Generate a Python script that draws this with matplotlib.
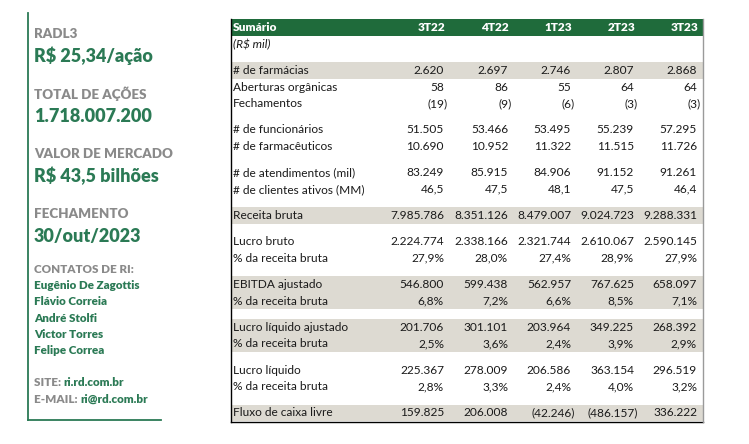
import matplotlib
matplotlib.use("Agg")
import matplotlib.pyplot as plt
from matplotlib.patches import Rectangle

plt.rcParams['font.family'] = ['Lato', 'DejaVu Sans']

# ---- data ----
periods = ['3T22', '4T22', '1T23', '2T23', '3T23']
farmacias = [2620, 2697, 2746, 2807, 2868]
aberturas = [58, 86, 55, 64, 64]
fechamentos = [-19, -9, -6, -3, -3]
funcionarios = [51505, 53466, 53495, 55239, 57295]
farmaceuticos = [10690, 10952, 11322, 11515, 11726]
atendimentos = [83249, 85915, 84906, 91152, 91261]
clientes = [46.5, 47.5, 48.1, 47.5, 46.4]
receita_bruta = [7985786, 8351126, 8479007, 9024723, 9288331]
lucro_bruto = [2224774, 2338166, 2321744, 2610067, 2590145]
lucro_bruto_pct = [27.9, 28.0, 27.4, 28.9, 27.9]
ebitda = [546800, 599438, 562957, 767625, 658097]
ebitda_pct = [6.8, 7.2, 6.6, 8.5, 7.1]
lucro_liq_aj = [201706, 301101, 203964, 349225, 268392]
lucro_liq_aj_pct = [2.5, 3.6, 2.4, 3.9, 2.9]
lucro_liq = [225367, 278009, 206586, 363154, 296519]
lucro_liq_pct = [2.8, 3.3, 2.4, 4.0, 3.2]
fluxo_caixa = [159825, 206008, -42246, -486157, 336222]

side_info = [
    ('RADL3', 'R$ 25,34/ação'),
    ('TOTAL DE AÇÕES', '1.718.007.200'),
    ('VALOR DE MERCADO', 'R$ 43,5 bilhões'),
    ('FECHAMENTO', '30/out/2023'),
]
contatos = ['Eugênio De Zagottis', 'Flávio Correia', 'André Stolfi',
            'Victor Torres', 'Felipe Correa']
site = ('SITE: ', 'ri.rd.com.br')
email = ('E-MAIL: ', 'ri@rd.com.br')

# groups separated by a blank row; each row: (label, values, kind, shaded)
groups = [
    [('# de farmácias', farmacias, 'int', True),
     ('Aberturas orgânicas', aberturas, 'int', False),
     ('Fechamentos', fechamentos, 'int', False)],
    [('# de funcionários', funcionarios, 'int', False),
     ('# de farmacêuticos', farmaceuticos, 'int', False)],
    [('# de atendimentos (mil)', atendimentos, 'int', False),
     ('# de clientes ativos (MM)', clientes, 'dec', False)],
    [('Receita bruta', receita_bruta, 'int', True)],
    [('Lucro bruto', lucro_bruto, 'int', False),
     ('% da receita bruta', lucro_bruto_pct, 'pct', False)],
    [('EBITDA ajustado', ebitda, 'int', True),
     ('% da receita bruta', ebitda_pct, 'pct', True)],
    [('Lucro líquido ajustado', lucro_liq_aj, 'int', True),
     ('% da receita bruta', lucro_liq_aj_pct, 'pct', True)],
    [('Lucro líquido', lucro_liq, 'int', False),
     ('% da receita bruta', lucro_liq_pct, 'pct', False)],
    [('Fluxo de caixa livre', fluxo_caixa, 'int', True)],
]


def fmt(v, kind):
    if kind == 'int':
        s = f"{abs(v):,.0f}".replace(',', '.')
    elif kind == 'dec':
        s = f"{abs(v):.1f}".replace('.', ',')
    else:
        s = f"{abs(v):.1f}".replace('.', ',') + '%'
    return f"({s})" if v < 0 else s


W, H = 749, 444
fig = plt.figure(figsize=(W / 100, H / 100), dpi=100)
ax = fig.add_axes([0, 0, 1, 1])
ax.set_xlim(0, W)
ax.set_ylim(H, 0)
ax.axis('off')

green_dark = '#1f6b3b'
green_txt = '#2b7a55'
gray_txt = '#8a8a8a'
shade = '#dddad2'
txt = '#1a1a1a'
bw = 800

# ---- left panel ----
ax.plot([27.5, 27.5], [13, 420], color=green_txt, lw=1.3)
ax.plot([27.5, 161], [420, 420], color=green_txt, lw=1.3)
lx = 34
y = 34
for lab, val in side_info:
    ax.text(lx, y, lab, color=gray_txt, fontsize=9.6, fontweight=bw, va='center')
    ax.text(lx, y + 22, val, color=green_txt, fontsize=13, fontweight=bw, va='center')
    y += 60
ax.text(lx, 269, 'CONTATOS DE RI:', color=gray_txt, fontsize=8.4, fontweight=bw, va='center')
for i, name in enumerate(contatos):
    ax.text(lx, 285.5 + i * 16.3, name, color=green_txt, fontsize=8.4, fontweight=bw, va='center')
for yy, (k, v) in zip([382, 399], [site, email]):
    t = ax.text(lx, yy, k, color=gray_txt, fontsize=8.4, fontweight=bw, va='center')
    ax.annotate(v, xycoords=t, xy=(1, 0.5), va='center', color=green_txt,
                fontsize=8.4, fontweight=bw)

# ---- table ----
x0, x1 = 231, 703
col_right = [444, 508, 571, 634, 697]
rh = 16.6
gap = 9.6
fs = 8.6
top = 19

ax.add_patch(Rectangle((x0, top), x1 - x0, 17, color=green_dark, lw=0))
ax.text(x0 + 2, top + 8.5, 'Sumário', color='white', fontsize=fs, fontweight=bw, va='center')
for cx, p in zip(col_right, periods):
    ax.text(cx + 1, top + 8.5, p, color='white', fontsize=fs, fontweight=bw, va='center', ha='right')

y = top + 17
ax.text(x0 + 2, y + rh / 2, '(R$ mil)', color=txt, fontsize=fs, style='italic', va='center')
y += rh

for rows in groups:
    y += gap
    for label, vals, kind, shaded in rows:
        if shaded:
            ax.add_patch(Rectangle((x0, y), x1 - x0, rh, color=shade, lw=0))
        yc = y + rh / 2
        ax.text(x0 + 2, yc, label, color=txt, fontsize=fs, va='center')
        for cx, v in zip(col_right, vals):
            ax.text(cx + (4 if v < 0 else 0), yc, fmt(v, kind), color=txt,
                    fontsize=fs, va='center', ha='right')
        y += rh

ax.plot([x0, x0], [top, y + 0.5], color='black', lw=1)
ax.plot([x0, x1], [y + 0.5, y + 0.5], color='black', lw=1)
ax.plot([x1, x1], [top, y + 0.5], color='#9a9a9a', lw=1)

fig.savefig('out.png', dpi=100)
